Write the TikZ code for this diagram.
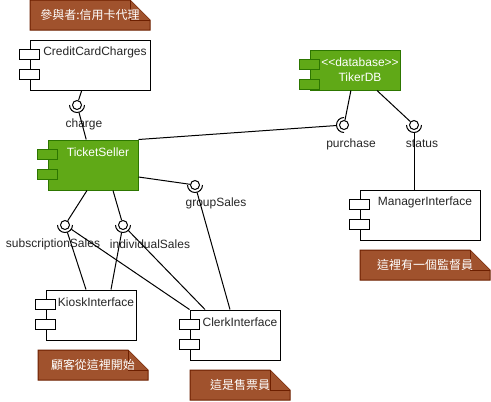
\documentclass[tikz,border=0pt]{standalone}
\usepackage{fontspec}
\setmainfont{Liberation Sans}
\newfontfamily\cjk{Noto Sans CJK TC}
\usepackage{xcolor}
\usepackage{tikz}
\usetikzlibrary{positioning,calc}
\pgfdeclarelayer{background}
\pgfsetlayers{background,main}

\definecolor{dbgreen}{HTML}{60A917}
\definecolor{dbgreenline}{HTML}{2D7600}
\definecolor{notebrown}{HTML}{A0522D}
\definecolor{notebrownline}{HTML}{6D1F00}

% two tabs on the left side of a component box
\newcommand{\comptabs}[2]{%
  \draw[#2] ([shift={(-10,10)}]#1.north west) rectangle ++(20,10);
  \draw[#2] ([shift={(-10,30)}]#1.north west) rectangle ++(20,10);
}
% note with folded corner, drawn behind the text
\newcommand{\foldnote}[1]{%
  \begin{pgfonlayer}{background}
    \draw[notepaper] (#1.north west) -- ([xshift=-20pt]#1.north east) -- ([yshift=-20pt]#1.north east)
      -- (#1.south east) -- (#1.south west) -- cycle;
    \draw[notepaper] ([xshift=-20pt]#1.north east) -- ([shift={(-20pt,-20pt)}]#1.north east) -- ([yshift=-20pt]#1.north east);
  \end{pgfonlayer}
}

\begin{document}
\begin{tikzpicture}[x=1pt,y=-1pt,
    comp/.style={draw, fill=white, line width=1pt, inner sep=0pt},
    compg/.style={comp, draw=dbgreenline, fill=dbgreen},
    tabw/.style={draw, fill=white, line width=1pt},
    tabg/.style={draw=dbgreenline, fill=dbgreen, line width=1pt},
    ctext/.style={font=\fontsize{12}{14.5}\selectfont, text=black!85, inner sep=0pt},
    wtext/.style={ctext, text=white, align=center},
    ball/.style={circle, draw, fill=white, line width=1pt, minimum size=9pt, inner sep=0pt},
    sock/.style={circle, minimum size=15pt, inner sep=0pt},
    note/.style={font=\cjk\fontsize{12}{14}\selectfont, text=white, minimum height=30pt, inner sep=0pt, outer sep=0pt},
    notepaper/.style={fill=notebrown, draw=notebrownline, line width=1pt},
    wire/.style={line width=1pt}]
    \useasboundingbox (0,0) rectangle (491,402);

    % Components
    \node[comp, minimum width=120pt, minimum height=50pt] (ccc) at (90,65) {};
    \comptabs{ccc}{tabw}
    \node[ctext] (cccT) at ([shift={(5,13)}]ccc.north) {CreditCardCharges};

    \node[compg, minimum width=90pt, minimum height=50pt] (ts) at (93,165) {};
    \comptabs{ts}{tabg}
    \node[wtext] (tsT) at ([shift={(5,13)}]ts.north) {TicketSeller};

    \node[compg, minimum width=90pt, minimum height=40pt] (db) at (355,70) {};
    \comptabs{db}{tabg}
    \node[wtext] (dbT) at ([shift={(5,20)}]db.north) {<\kern0pt<database>\kern0pt>\\TikerDB};

    \node[comp, minimum width=120pt, minimum height=50pt] (mgr) at (420,215) {};
    \comptabs{mgr}{tabw}
    \node[ctext] (mgrT) at ([shift={(5,13)}]mgr.north) {ManagerInterface};

    \node[comp, minimum width=90pt, minimum height=50pt] (kiosk) at (91,315) {};
    \comptabs{kiosk}{tabw}
    \node[ctext] (kioskT) at ([shift={(5,13)}]kiosk.north) {KioskInterface};

    \node[comp, minimum width=90pt, minimum height=50pt] (clerk) at (235,335) {};
    \comptabs{clerk}{tabw}
    \node[ctext] (clerkT) at ([shift={(5,13)}]clerk.north) {ClerkInterface};

    % Interfaces (ball + socket)
    \node[ball] (charge) at (77,105) {};
    \node[sock] (chargeS) at (charge) {};
    \node[ball] (purchase) at (344,125) {};
    \node[sock] (purchaseS) at (purchase) {};
    \node[ball] (status) at (414,125) {};
    \node[sock] (statusS) at (status) {};
    \node[ball] (group) at (195,185) {};
    \node[sock] (groupS) at (group) {};
    \node[ball] (subscr) at (65,225) {};
    \node[sock] (subscrS) at (subscr) {};
    \node[ball] (indiv) at (123,225) {};
    \node[sock] (indivS) at (indiv) {};

    \draw[wire] (charge.center) ++(7.5,0) arc[start angle=0, end angle=180, radius=7.5];
    \draw[wire] (purchase.center) ++(0,7.5) arc[start angle=90, end angle=270, radius=7.5];
    \draw[wire] (status.center) ++(7.5,0) arc[start angle=0, end angle=180, radius=7.5];
    \draw[wire] (group.center) ++(7.5,0) arc[start angle=0, end angle=180, radius=7.5];
    \draw[wire] (subscr.center) ++(7.5,0) arc[start angle=0, end angle=180, radius=7.5];
    \draw[wire] (indiv.center) ++(7.5,0) arc[start angle=0, end angle=180, radius=7.5];

    \node[ctext] (chargeL) at (84,124) {charge};
    \node[ctext] (purchaseL) at (351,144) {purchase};
    \node[ctext] (statusL) at (422,144) {status};
    \node[ctext] (groupL) at (216,203) {groupSales};
    \node[ctext] (subscrL) at (53,244) {subscriptionSales};
    \node[ctext] (indivL) at (150,244) {individualSales};

    % Connectors
    \draw[wire] (ccc) -- (charge);
    \draw[wire] (chargeS) -- (ts);
    \draw[wire] (ts.north east) -- (purchaseS);
    \draw[wire] (db) -- (purchase);
    \draw[wire] (db) -- (status);
    \draw[wire] (statusS) -- (mgr.north -| status);
    \draw[wire] ([yshift=-12pt]ts.east) -- (group);
    \draw[wire] (groupS) -- ([xshift=-5pt]clerk.north);
    \draw[wire] ([xshift=-6pt]ts.south) -- (subscr);
    \draw[wire] ([xshift=20pt]ts.south) -- (indiv);
    \draw[wire] (subscrS) -- ([xshift=-5pt]kiosk.north);
    \draw[wire] (subscrS) -- (clerk.north west);
    \draw[wire] (indivS) -- ([xshift=20pt]kiosk.north);
    \draw[wire] (indivS) -- ([xshift=-30pt]clerk.north);

    % Notes
    \node[note, minimum width=120pt] (n1) at (90,15) {參與者:信用卡代理};
    \foldnote{n1}
    \node[note, minimum width=110pt] (n2) at (93,365) {顧客從這裡開始};
    \foldnote{n2}
    \node[note, minimum width=100pt] (n3) at (240,385) {這是售票員};
    \foldnote{n3}
    \node[note, minimum width=130pt] (n4) at (425,265) {這裡有一個監督員};
    \foldnote{n4}
\end{tikzpicture}
\end{document}
